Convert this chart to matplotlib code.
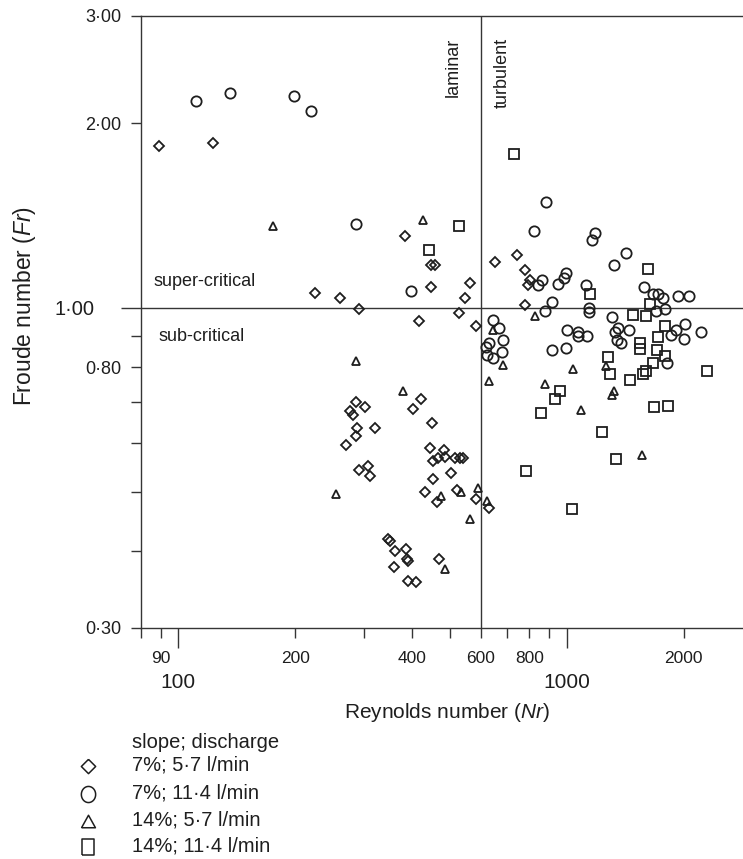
import numpy as np
import matplotlib
matplotlib.use("Agg")
import matplotlib.pyplot as plt
from matplotlib.lines import Line2D
from matplotlib.ticker import FixedLocator, FixedFormatter

plt.rcParams['font.family'] = ['Liberation Sans', 'DejaVu Sans']
plt.rcParams['mathtext.fontset'] = 'custom'
plt.rcParams['mathtext.rm'] = 'Liberation Sans'
plt.rcParams['mathtext.it'] = 'Liberation Sans:italic'

# ---------------- data (Reynolds number, Froude number) ----------------
series_labels = ['7%; 5·7 l/min', '7%; 11·4 l/min', '14%; 5·7 l/min', '14%; 11·4 l/min']

re_s7_q57 = [89, 123, 225, 260, 291, 384, 448, 457, 448, 563, 548, 528, 417, 585,
             745, 655, 781, 806, 796, 782,
             286, 303, 276, 281, 422, 402, 449, 288, 321, 287, 270, 445, 482, 466,
             453, 486, 515, 540, 532, 503, 451, 291, 308, 311, 432, 522, 462, 584,
             632, 346, 350, 362, 385, 387, 390, 360, 468, 390, 410]
fr_s7_q57 = [1.839, 1.859, 1.056, 1.039, 0.995, 1.310, 1.176, 1.176, 1.082, 1.099, 1.038, 0.980, 0.951, 0.934,
             1.220, 1.186, 1.151, 1.110, 1.089, 1.009,
             0.701, 0.688, 0.679, 0.669, 0.708, 0.684, 0.647, 0.636, 0.636, 0.618, 0.597, 0.589, 0.586, 0.569,
             0.561, 0.571, 0.569, 0.569, 0.568, 0.537, 0.524, 0.543, 0.551, 0.530, 0.500, 0.504, 0.482, 0.487,
             0.470, 0.419, 0.416, 0.400, 0.403, 0.388, 0.386, 0.377, 0.388, 0.357, 0.356]

re_s7_q114 = [111, 136, 199, 220, 287, 397, 884, 824, 1179, 1158, 1422, 1325, 997, 982,
              946, 865, 842, 1123, 1584, 1667, 1721, 1763, 1932, 2061, 913, 1138, 1142, 881,
              1788, 1699, 1304, 644, 667, 998, 1069, 1127, 1065, 1357, 1327, 1442, 1342, 1379,
              2017, 2214, 1909, 1856, 2005, 683, 632, 623, 679, 646, 915, 996, 1813, 619]
fr_s7_q114 = [2.178, 2.245, 2.215, 2.096, 1.372, 1.065, 1.491, 1.337, 1.325, 1.290, 1.229, 1.174, 1.141, 1.118,
              1.095, 1.108, 1.088, 1.089, 1.081, 1.054, 1.053, 1.037, 1.045, 1.045, 1.020, 1.000, 0.983, 0.989,
              0.995, 0.987, 0.966, 0.955, 0.927, 0.920, 0.912, 0.898, 0.898, 0.927, 0.912, 0.919, 0.885, 0.875,
              0.940, 0.914, 0.918, 0.902, 0.890, 0.886, 0.875, 0.838, 0.847, 0.828, 0.854, 0.859, 0.812, 0.864]

re_s14_q57 = [175, 426, 830, 645, 686, 632, 1039, 879, 1261, 1319, 1307, 1085, 1564, 589,
              535, 475, 622, 564, 286, 379, 255, 486]
fr_s14_q57 = [1.359, 1.390, 0.969, 0.918, 0.807, 0.758, 0.793, 0.751, 0.802, 0.730, 0.720, 0.680, 0.575, 0.507,
              0.4995, 0.492, 0.483, 0.452, 0.817, 0.730, 0.496, 0.374]

re_s14_q114 = [443, 529, 730, 1620, 1144, 1632, 1476, 1598, 1788, 1712, 1543, 1539, 1711, 1791,
               1273, 1664, 1601, 1567, 1294, 1454, 2291, 958, 934, 856, 1676, 1820, 1234, 1335, 784, 1031]
fr_s14_q114 = [1.241, 1.359, 1.780, 1.155, 1.053, 1.014, 0.974, 0.969, 0.934, 0.895, 0.877, 0.857, 0.852, 0.835,
               0.831, 0.812, 0.787, 0.778, 0.780, 0.763, 0.787, 0.732, 0.710, 0.672, 0.687, 0.690, 0.627, 0.565,
               0.541, 0.469]

x_major_ticks = [100, 1000]
x_major_labels = ['100', '1000']
x_minor_ticks = [80, 90, 200, 300, 400, 500, 600, 700, 800, 900, 2000]
x_minor_labels = ['', '90', '200', '', '400', '', '600', '', '800', '', '2000']
y_major_ticks = [1.0]
y_major_labels = ['1·00']
y_minor_ticks = [0.3, 0.4, 0.5, 0.6, 0.7, 0.8, 0.9, 2.0, 3.0]
y_minor_labels = ['0·30', '', '', '', '', '0·80', '', '2·00', '3·00']

laminar_turbulent_re = 600
critical_fr = 1.0

# ---------------- figure ----------------
W, H = 743, 859
fig = plt.figure(figsize=(W / 100, H / 100), dpi=100)
fig.patch.set_facecolor('white')

def fxp(px):
    return px / W

def fyp(py):
    return 1 - py / H

ink = '#1e1e1e'
line_c = '#353535'

ax_left, ax_right, ax_top, ax_bottom = 140.7, 743.0, 15.7, 627.7
ax = fig.add_axes([fxp(ax_left), fyp(ax_bottom), fxp(ax_right) - fxp(ax_left), fyp(ax_top) - fyp(ax_bottom)])
ax.set_xscale('log')
ax.set_yscale('log')
ax.set_xlim(80, 2840)
ax.set_ylim(0.3, 3.0)

for side in ['left', 'bottom', 'top']:
    ax.spines[side].set_color(line_c)
    ax.spines[side].set_linewidth(1.0)
ax.spines['right'].set_visible(False)

ax.xaxis.set_major_locator(FixedLocator(x_major_ticks))
ax.xaxis.set_major_formatter(FixedFormatter(x_major_labels))
ax.xaxis.set_minor_locator(FixedLocator(x_minor_ticks))
ax.xaxis.set_minor_formatter(FixedFormatter(x_minor_labels))
ax.yaxis.set_major_locator(FixedLocator(y_major_ticks))
ax.yaxis.set_major_formatter(FixedFormatter(y_major_labels))
ax.yaxis.set_minor_locator(FixedLocator(y_minor_ticks))
ax.yaxis.set_minor_formatter(FixedFormatter(y_minor_labels))

ax.tick_params(axis='x', which='major', length=14.4, width=1.0, color=line_c,
               pad=18, labelsize=15, labelcolor=ink)
ax.tick_params(axis='x', which='minor', length=7.2, width=1.0, color=line_c,
               pad=9.6, labelsize=12.5, labelcolor=ink)
ax.tick_params(axis='y', which='major', length=14.4, width=1.0, color=line_c,
               pad=19, labelsize=14.5, labelcolor=ink)
ax.tick_params(axis='y', which='minor', length=7.2, width=1.0, color=line_c,
               pad=6.8, labelsize=13, labelcolor=ink)

# reference lines
ax.axvline(laminar_turbulent_re, color=line_c, lw=1.0, zorder=1)
ax.axhline(critical_fr, color=line_c, lw=1.0, zorder=1)

# data
mk = dict(linestyle='none', mfc='none', mec=ink, mew=1.3, zorder=3)
ax.plot(re_s7_q57, fr_s7_q57, marker='D', ms=4.9, **mk)
ax.plot(re_s7_q114, fr_s7_q114, marker='o', ms=7.4, **mk)
ax.plot(re_s14_q57, fr_s14_q57, marker='^', ms=5.8, **mk)
ax.plot(re_s14_q114, fr_s14_q114, marker='s', ms=6.5, **mk)

# annotations
ax.text(509.6, 0.9636, 'laminar', rotation=90, ha='center', va='top', size=13, color=ink,
        transform=ax.get_xaxis_transform())
ax.text(681.7, 0.9636, 'turbulent', rotation=90, ha='center', va='top', size=13, color=ink,
        transform=ax.get_xaxis_transform())
fig.text(fxp(154), fyp(281.7), 'super-critical', ha='left', va='center', size=13, color=ink)
fig.text(fxp(158.3), fyp(336.7), 'sub-critical', ha='left', va='center', size=13, color=ink)

# axis labels
fig.text(fxp(447), fyp(713), 'Reynolds number ($Nr$)', ha='center', va='center', size=15, color=ink)
fig.text(fxp(25), fyp(306), 'Froude number ($Fr$)', ha='center', va='center', size=16.5,
         rotation=90, color=ink)

# legend (manual)
t = np.linspace(0, 2 * np.pi, 73)
leg_markers = [
    [(0, 1), (1, 0), (0, -1), (-1, 0), (0, 1)],
    list(zip(0.887 * np.cos(t), np.sin(t))),
    [(-1, -0.9), (1, -0.9), (0, 0.9), (-1, -0.9)],
    [(-0.78, -1), (0.78, -1), (0.78, 1), (-0.78, 1), (-0.78, -1)],
]
leg_ms = [10.3, 11.6, 10.0, 11.4]
leg_rows = [766, 794, 820.5, 847]
fig.text(fxp(131.7), fyp(742), 'slope; discharge', ha='left', va='center', size=14.5, color=ink)
for mverts, ms, lab, yrow in zip(leg_markers, leg_ms, series_labels, leg_rows):
    fig.add_artist(Line2D([fxp(87.5)], [fyp(yrow)], transform=fig.transFigure,
                          marker=mverts, ms=ms, mfc='none', mec=ink, mew=1.1, linestyle='none'))
    fig.text(fxp(132.5), fyp(yrow - 1), lab, ha='left', va='center', size=14.5, color=ink)

fig.savefig('out.png', dpi=100, facecolor='white')
